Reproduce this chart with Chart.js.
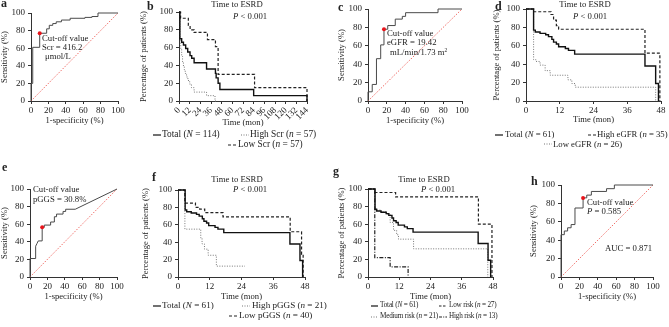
<!DOCTYPE html>
<html>
<head>
<meta charset="utf-8">
<script src="https://cdn.jsdelivr.net/npm/chart.js@4.4.1/dist/chart.umd.min.js"></script>
<style>
html, body { margin: 0; padding: 0; background: #fff; }
#page { position: relative; width: 669px; height: 327px; overflow: hidden;
        font-family: 'Liberation Serif', 'Times New Roman', serif; color: #222; }
#page canvas { position: absolute; left: 0; top: 0; }
.t { position: absolute; white-space: nowrap; line-height: 1; }
.lt { font-weight: bold; }
.sup { position: relative; top: -3px; font-size: 5.5px; }
svg { position: absolute; }
</style>
</head>
<body>
<div id="page"></div>
<script>
// ROC curves: [1-specificity %, sensitivity %]
const diagonal = [[0, 0], [100, 100]];
const rocScr = [[0,0],[0,20],[2,20],[2,61],[10,61],[10,77],[18,77],[18,82],[21,82],[21,86],[25,86],[25,88],[29,88],[29,90],[35,90],[35,92],[45,92],[45,94],[62,94],[62,95],[70,95],[70,96],[77,96],[77,100],[100,100]];
const cutScr = [10, 77];
const rocEgfr = [[0,0],[0,10],[4.5,10],[4.5,18],[9,18],[9,46],[13.5,46],[13.5,61],[17,61],[17,78],[21,78],[21,82],[29,82],[29,89],[36.5,89],[36.5,92],[40,92],[40,96],[74.5,96],[74.5,100],[100,100]];
const cutEgfr = [17, 78];
const rocPggs = [[0,0],[0,21],[6.5,21],[6.5,35],[8,38],[9.5,41],[14,41],[14,56.5],[16.4,56.5],[16.4,59],[23.7,59],[23.7,62.5],[28,62.5],[28,68.5],[30.5,68.5],[30.5,71.5],[38,71.5],[38,74.5],[41,74.5],[41,77],[52,77],[100,100]];
const cutPggs = [14, 56.5];
const rocModel = [[0,0],[0,46],[3.6,46],[3.6,50],[7.2,50],[7.2,53.5],[11,53.5],[11,57],[15.2,57],[15.2,75],[24,75],[24,86],[28,86],[28,89],[33,89],[33,93],[49.5,93],[49.5,96],[58,96],[58,100],[100,100]];
const cutModel = [24, 86];

// Kaplan-Meier curves: [time (mon), % of patients]
const scrTotal = [[0,100],[1,70],[3,66],[5,63],[7.5,59],[9.8,55],[12.4,51],[14.3,48],[17,43],[31,36],[41,31],[41.8,26],[44,20],[46,13],[84,6],[144,0]];
const scrHigh = [[0,100],[1,70],[2,58],[3,50],[4,44],[5,39],[6,35],[7,31],[8.5,27],[10,23],[12,19],[14,15],[17,10],[31,6],[40.5,0],[42,0]];
const scrLow = [[0,100],[1.8,93],[10.5,85],[12.5,80],[17,77],[32,69],[41,61],[44,30],[85,15],[144,0]];

const total61 = [[0,100],[2.7,77],[3.3,75],[5,73.5],[7,72],[8,70],[9.2,67],[9.8,64],[10.8,62],[11.6,59],[14,57],[15.1,55],[17.3,51],[42.3,38],[46.1,19],[47.1,0]];
const egfrHigh = [[0,100],[2.7,97],[8.9,94],[9.8,88],[10.8,82],[11.6,78],[42.3,52],[47.6,0]];
const egfrLow = [[0,100],[2.7,45],[3.5,43],[5,39],[6.8,33],[8.6,28],[14.9,23],[16.3,19],[17.5,15],[46.1,0]];
const pggsHigh = [[0,100],[2.6,55],[8.6,45],[9.1,38],[10,32],[11.4,25],[14.5,12.5],[25.3,12.5]];
const pggsLow = [[0,100],[2.6,85],[6.6,80],[8.2,78],[10.1,74],[17,69],[42.4,52],[46.7,26],[47.3,0]];
const riskLow = [[0,100],[2.6,96],[10.6,91],[42.4,60],[47.6,0]];
const riskMed = [[0,100],[2.6,76],[5,74],[7,71],[8.5,62],[9.8,53],[11,48],[11.7,43],[17.5,32],[46,0]];
const riskHigh = [[0,100],[2.6,22],[8.5,11.5],[15.4,0]];

const FONT = "'Liberation Serif', 'Times New Roman', serif";
const INK = '#222';
const AX = '#333';
const W = 669, H = 327;
const page = document.getElementById('page');

const pts = a => a.map(([x, y]) => ({x, y}));

function km(a, color, dash, w) {
    return {data: pts(a), borderColor: color, borderWidth: w || 1.2, borderDash: dash || [],
            stepped: 'before', pointRadius: 0, fill: false, clip: false};
}
function roc(a) {
    return {data: pts(a), borderColor: '#4a4a4a', borderWidth: 1, pointRadius: 0, fill: false, clip: false};
}
function diag() {
    return {data: pts(diagonal), borderColor: '#ec4a42', borderWidth: 0.8, borderDash: [1.5, 1.5],
            pointRadius: 0, fill: false, clip: false};
}
function cut(p) {
    return {data: pts([p]), showLine: false, pointRadius: 2, pointBackgroundColor: '#e8141b',
            pointBorderWidth: 0, clip: false};
}

function panel(box, xMax, xStep, xTitle, yTitle, datasets, rot) {
    const cv = document.createElement('canvas');
    cv.width = W;
    cv.height = H;
    page.appendChild(cv);
    const tickFont = {family: FONT, size: 9};
    const titleFont = {family: FONT, size: 8.6};
    new Chart(cv, {
        type: 'line',
        data: {datasets: datasets},
        options: {
            responsive: false,
            animation: false,
            layout: {padding: {left: box.l - box.yw, right: W - box.r, top: box.t, bottom: H - box.b - box.xh}},
            plugins: {legend: {display: false}, tooltip: {enabled: false}},
            scales: {
                x: {
                    type: 'linear', min: 0, max: xMax,
                    ticks: {stepSize: xStep, autoSkip: false, maxTicksLimit: 20, minRotation: rot || 0,
                            maxRotation: rot || 0, padding: 1, color: INK, font: tickFont},
                    grid: {drawOnChartArea: false, drawTicks: true, tickLength: 3, color: AX},
                    border: {color: AX, width: 1},
                    title: {display: true, text: xTitle, color: INK, font: titleFont, padding: 0},
                    afterFit: s => { s.height = box.xh; }
                },
                y: {
                    min: 0, max: 100,
                    ticks: {stepSize: 20, padding: 3, color: INK, font: tickFont},
                    grid: {drawOnChartArea: false, drawTicks: true, tickLength: 3, color: AX},
                    border: {color: AX, width: 1},
                    title: {display: true, text: yTitle, color: INK, font: titleFont, padding: 0},
                    afterFit: s => { s.width = box.yw; }
                }
            }
        }
    });
}

// text placed by its baseline
function txt(x, base, html, size, opts) {
    const o = opts || {};
    const fs = size || 8.7;
    const d = document.createElement('div');
    d.className = 't' + (o.bold ? ' lt' : '');
    d.innerHTML = html;
    d.style.fontSize = fs + 'px';
    d.style.left = x + 'px';
    d.style.top = (base - 0.84 * fs) + 'px';
    if (o.center) d.style.transform = 'translateX(-50%)';
    if (o.tight) d.style.letterSpacing = o.tight + 'px';
    page.appendChild(d);
}

function sample(x, base, dash, color, len) {
    const ns = 'http://www.w3.org/2000/svg';
    const n = len || 8;
    const s = document.createElementNS(ns, 'svg');
    s.setAttribute('width', n);
    s.setAttribute('height', 4);
    s.style.left = x + 'px';
    s.style.top = (base - 5) + 'px';
    const l = document.createElementNS(ns, 'line');
    l.setAttribute('x1', 0); l.setAttribute('x2', n);
    l.setAttribute('y1', 2); l.setAttribute('y2', 2);
    l.setAttribute('stroke', color);
    l.setAttribute('stroke-width', 1.2);
    if (dash) l.setAttribute('stroke-dasharray', dash);
    s.appendChild(l);
    page.appendChild(s);
}

const SOLID = '#111', DASH = '#222', DOT = '#777';
const dashA = [3, 2], dotA = [1, 1.5], dashDotA = [4, 1.5, 1, 1.5];

// a
panel({l: 31, r: 118, t: 13, b: 101, yw: 31, xh: 25}, 100, 20, '1-specificity (%)', 'Sensitivity (%)',
      [cut(cutScr), roc(rocScr), diag()]);
// b
panel({l: 179, r: 307, t: 12, b: 101, yw: 40, xh: 27}, 144, 12, 'Time (mon)', 'Percentage of patients (%)',
      [km(scrTotal, SOLID, null, 1.4), km(scrLow, DASH, dashA), km(scrHigh, DOT, dotA, 1)], 45);
// c
panel({l: 368, r: 462, t: 9, b: 101, yw: 31, xh: 25}, 100, 20, '1-specificity (%)', 'Sensitivity (%)',
      [cut(cutEgfr), roc(rocEgfr), diag()]);
// d
panel({l: 526, r: 661, t: 9, b: 101, yw: 34, xh: 24}, 48, 12, 'Time (mon)', 'Percentage of patients (%)',
      [km(total61, SOLID, null, 1.4), km(egfrHigh, DASH, dashA), km(egfrLow, DOT, dotA, 1)]);
// e
panel({l: 30, r: 117, t: 189, b: 277, yw: 30, xh: 25}, 100, 20, '1-specificity (%)', 'Sensitivity (%)',
      [cut(cutPggs), roc(rocPggs), diag()]);
// f
panel({l: 178, r: 305, t: 190, b: 277, yw: 37, xh: 25}, 48, 12, 'Time (mon)', 'Percentage of patients (%)',
      [km(total61, SOLID, null, 1.4), km(pggsLow, DASH, dashA), km(pggsHigh, DOT, dotA, 1)]);
// g
panel({l: 368, r: 493, t: 189, b: 277, yw: 31, xh: 25}, 48, 12, 'Time (mon)', 'Percentage of patients (%)',
      [km(total61, SOLID, null, 1.4), km(riskLow, DASH, dashA), km(riskMed, DOT, dotA, 1), km(riskHigh, DASH, dashDotA)]);
// h
panel({l: 561, r: 653, t: 185, b: 277, yw: 32, xh: 25}, 100, 20, '1-specificity (%)', 'Sensitivity (%)',
      [cut(cutModel), roc(rocModel), diag()]);

// panel letters
const B = {bold: true};
txt(1, 7.5, 'a', 12, B);
txt(147, 10, 'b', 12, B);
txt(338, 11.5, 'c', 12, B);
txt(495, 10, 'd', 12, B);
txt(2, 171.5, 'e', 12, B);
txt(152, 181.5, 'f', 12, B);
txt(333, 175, 'g', 12, B);
txt(531, 185, 'h', 12, B);

// titles
const C = {center: true};
txt(237, 7.5, 'Time to ESRD', 8.7, C);
txt(233, 19.5, '<i>P</i> &lt; 0.001');
txt(585, 7.5, 'Time to ESRD', 8.7, C);
txt(573, 19.5, '<i>P</i> &lt; 0.001');
txt(237, 182, 'Time to ESRD', 8.7, C);
txt(233, 192.5, '<i>P</i> &lt; 0.001');
txt(424, 182, 'Time to ESRD', 8.7, C);
txt(421, 192.5, '<i>P</i> &lt; 0.001');

// ROC annotations
txt(42, 41.5, 'Cut-off value');
txt(42, 50.5, 'Scr = 416.2');
txt(45, 59, 'μmol/L');
txt(387, 36.5, 'Cut-off value');
txt(387, 45.5, 'eGFR = 19.42');
txt(390, 55, 'mL/min/1.73 m<span class="sup">2</span>');
txt(33, 192, 'Cut-off value');
txt(33, 202, 'pGGS = 30.8%');
txt(587, 205.5, 'Cut-off value');
txt(587, 214.5, '<i>P</i> = 0.585');
txt(605, 251, 'AUC = 0.871');

// legends
sample(153, 138, null, SOLID); txt(162, 138, 'Total (<i>N</i> = 114)', 9.4);
sample(241, 138, '1,1.5', DOT); txt(250, 138, 'High Scr (<i>n</i> = 57)', 9.4);
sample(228, 148, '3,2', DASH); txt(238, 148, 'Low Scr (<i>n</i> = 57)', 9.4);

sample(495, 137.5, null, SOLID); txt(505, 137.5, 'Total (<i>N</i> = 61)');
sample(588, 137.5, '3,2', DASH); txt(597, 137.5, 'High eGFR (<i>n</i> = 35)');
sample(544, 147, '1,1.5', DOT); txt(553, 147, 'Low eGFR (<i>n</i> = 26)');

sample(153, 309, null, SOLID); txt(162, 309, 'Total (<i>N</i> = 61)', 9.1);
sample(242, 309, '1,1.5', DOT); txt(252, 309, 'High pGGS (<i>n</i> = 21)', 9.1);
sample(229, 319, '3,2', DASH); txt(239, 319, 'Low pGGS (<i>n</i> = 40)', 9.1);

const T = {tight: -0.2};
sample(371, 308.5, null, SOLID, 7); txt(380, 308.5, 'Total (<i>N</i> = 61)', 7.2, T);
sample(439, 308.5, '2.5,1.5', DASH, 8); txt(449, 308.5, 'Low risk (<i>n</i> = 27)', 7.2, T);
sample(371, 319.5, '1,1.5', DOT, 7); txt(380, 319.5, 'Medium risk (<i>n</i> = 21)', 7.2, T);
sample(439, 319.5, '3,1.2,1,1.2', DASH, 8); txt(449, 319.5, 'High risk (<i>n</i> = 13)', 7.2, T);
</script>
</body>
</html>
